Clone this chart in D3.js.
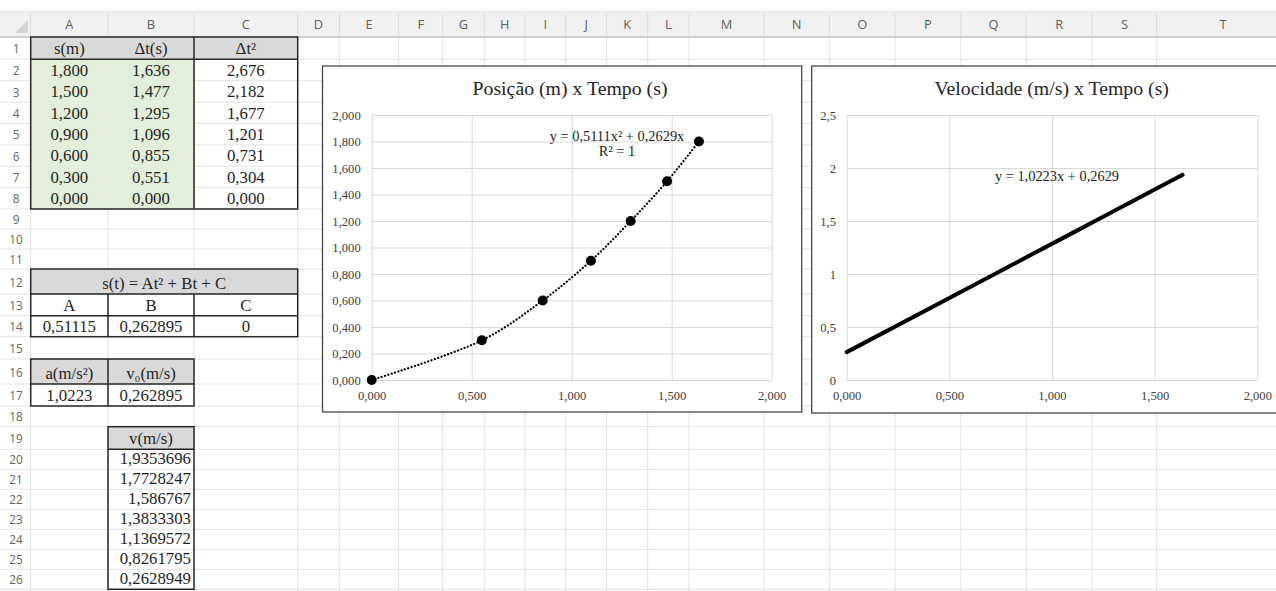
<!DOCTYPE html>
<html>
<head>
<meta charset="utf-8">
<script src="https://cdn.jsdelivr.net/npm/d3@7"></script>
<style>
  body { margin: 0; background: #fff; overflow: hidden; }
  svg { display: block; }
</style>
</head>
<body>
<svg id="sheet" width="1276" height="591"></svg>
<script>
// ---- measured data ----
const distance = [1.800, 1.500, 1.200, 0.900, 0.600, 0.300, 0.000];      // s(m)
const elapsed = [1.636, 1.477, 1.295, 1.096, 0.855, 0.551, 0.000];       // Δt(s)
const elapsedSq = [2.676, 2.182, 1.677, 1.201, 0.731, 0.304, 0.000];     // Δt²
const fitA = 0.51115, fitB = 0.262895, fitC = 0;                          // s(t) = At² + Bt + C
const acceleration = 1.0223, initialVelocity = 0.262895;
const velocity = [1.9353696, 1.7728247, 1.586767, 1.3833303, 1.1369572, 0.8261795, 0.2628949];

// ---- axis ticks and labels ----
const timeTicks = [0, 0.5, 1, 1.5, 2];
const positionTicks = [0, 0.2, 0.4, 0.6, 0.8, 1, 1.2, 1.4, 1.6, 1.8, 2];
const velocityTicks = [0, 0.5, 1, 1.5, 2, 2.5];
const columnLabels = ["A","B","C","D","E","F","G","H","I","J","K","L","M","N","O","P","Q","R","S","T"];
const positionTitle = "Posição (m) x Tempo (s)";
const velocityTitle = "Velocidade (m/s) x Tempo (s)";
const positionEquation = "y = 0,5111x² + 0,2629x";
const positionR2 = "R² = 1";
const velocityEquation = "y = 1,0223x + 0,2629";

// ---- sheet layout ----
const colEdges = [0, 30.7, 108, 194, 297.7, 339.3, 398.7, 442.7, 484.3, 525, 565.7, 606.7,
                  647.7, 689, 764, 829.3, 895, 960.8, 1026.2, 1092.1, 1156.7, 1290];
const rowEdges = [37, 59.3, 80.7, 102.1, 123.5, 144.9, 166.3, 187.7, 209, 229, 249, 269,
                  294, 315.7, 336.7, 359, 384, 406, 426.7, 449.3, 469.3, 489.3, 509.3, 529.3,
                  549.3, 569.3, 589.3, 612];
const SERIF = "'Liberation Serif', serif";
const SANS = "'Open Sans', 'Noto Sans', sans-serif";
const ink = "#1f1f1f";

const comma = v => String(v).replace(".", ",");
const fix3 = v => d3.format(".3f")(v).replace(".", ",");
const colL = c => colEdges[c + 1];          // c: 0 = A
const colR = c => colEdges[c + 2];
const rowT = r => rowEdges[r - 1];          // r: 1-based
const rowB = r => rowEdges[r];

const svg = d3.select("#sheet");
svg.append("rect").attr("width", 1276).attr("height", 591).attr("fill", "#fff");

// ---- sheet gridlines ----
const grid = svg.append("g").attr("stroke", "#e3e3e3").attr("stroke-width", 1);
rowEdges.forEach(y => grid.append("line").attr("x1", 0).attr("x2", 1276).attr("y1", y).attr("y2", y));
colEdges.slice(1).forEach(x => grid.append("line").attr("x1", x).attr("x2", x).attr("y1", 37).attr("y2", 591));

// ---- column header band ----
svg.append("rect").attr("x", 0).attr("y", 11.7).attr("width", 1276).attr("height", 25.3).attr("fill", "#f1f1f1");
svg.append("line").attr("x1", 0).attr("x2", 1276).attr("y1", 11.7).attr("y2", 11.7).attr("stroke", "#e2e2e2");
svg.append("line").attr("x1", 0).attr("x2", 1276).attr("y1", 37).attr("y2", 37).attr("stroke", "#c4c4c4").attr("stroke-width", 1.4);
colEdges.slice(1).forEach(x => svg.append("line").attr("x1", x).attr("x2", x).attr("y1", 14).attr("y2", 36)
  .attr("stroke", "#dcdcdc"));
svg.append("path").attr("d", "M28,20 L28,33 L15,33 Z").attr("fill", "#d4d4d4");
svg.append("g").selectAll("text").data(columnLabels).join("text")
  .attr("x", (d, i) => i === 19 ? 1223 : (colL(i) + colR(i)) / 2)
  .attr("y", 28.5).attr("text-anchor", "middle")
  .attr("font-family", SANS).attr("font-size", 12.8).attr("fill", "#5f5f5f").text(d => d);

// ---- row numbers ----
svg.append("g").selectAll("text").data(d3.range(1, 27)).join("text")
  .attr("x", 16).attr("y", r => (rowT(r) + rowB(r)) / 2 + 1).attr("dy", "0.35em")
  .attr("text-anchor", "middle").attr("font-family", SANS).attr("font-size", 11.8)
  .attr("fill", "#666").text(r => r);

// ---- cell fills ----
const GRAY = "#d9d9d9", GREEN = "#e2efda";
function fill(c0, r0, c1, r1, color) {
  svg.append("rect").attr("x", colL(c0)).attr("y", rowT(r0))
    .attr("width", colR(c1) - colL(c0)).attr("height", rowB(r1) - rowT(r0)).attr("fill", color);
}
fill(0, 1, 2, 1, GRAY);
fill(0, 2, 1, 8, GREEN);
fill(0, 12, 2, 12, GRAY);
fill(0, 16, 1, 16, GRAY);
fill(1, 19, 1, 19, GRAY);

// ---- cell text ----
const cells = svg.append("g").attr("font-family", SERIF).attr("font-size", 16.8).attr("fill", ink);
function cell(c0, c1, r, txt, align) {
  const t = cells.append("text").attr("y", rowB(r) - 5);
  if (align === "right") t.attr("x", colR(c1) - 3).attr("text-anchor", "end");
  else t.attr("x", (colL(c0) + colR(c1)) / 2).attr("text-anchor", "middle");
  t.text(txt);
}
cell(0, 0, 1, "s(m)"); cell(1, 1, 1, "Δt(s)"); cell(2, 2, 1, "Δt²");
distance.forEach((v, i) => cell(0, 0, i + 2, fix3(v)));
elapsed.forEach((v, i) => cell(1, 1, i + 2, fix3(v)));
elapsedSq.forEach((v, i) => cell(2, 2, i + 2, fix3(v)));
cell(0, 2, 12, "s(t) = At² + Bt + C");
cell(0, 0, 13, "A"); cell(1, 1, 13, "B"); cell(2, 2, 13, "C");
cell(0, 0, 14, comma(fitA)); cell(1, 1, 14, comma(fitB)); cell(2, 2, 14, comma(fitC));
cell(0, 0, 16, "a(m/s²)"); cell(1, 1, 16, "v₀(m/s)");
cell(0, 0, 17, comma(acceleration)); cell(1, 1, 17, comma(initialVelocity));
cell(1, 1, 19, "v(m/s)");
velocity.forEach((v, i) => cell(1, 1, i + 20, comma(v), "right"));

// ---- cell borders ----
const borders = svg.append("g").attr("stroke", "#262626").attr("stroke-width", 1.5).attr("fill", "none");
function box(c0, r0, c1, r1) {
  borders.append("rect").attr("x", colL(c0)).attr("y", rowT(r0))
    .attr("width", colR(c1) - colL(c0)).attr("height", rowB(r1) - rowT(r0));
}
function hline(c0, c1, y) { borders.append("line").attr("x1", colL(c0)).attr("x2", colR(c1)).attr("y1", y).attr("y2", y); }
function vline(x, r0, r1) { borders.append("line").attr("x1", x).attr("x2", x).attr("y1", rowT(r0)).attr("y2", rowB(r1)); }
box(0, 1, 2, 8); hline(0, 2, rowB(1)); vline(colR(1), 1, 8);
box(0, 12, 2, 14); hline(0, 2, rowB(12)); hline(0, 2, rowB(13)); vline(colR(0), 13, 14); vline(colR(1), 13, 14);
box(0, 16, 1, 17); hline(0, 1, rowB(16)); vline(colR(0), 16, 17);
box(1, 19, 1, 26); hline(1, 1, rowB(19));

// ---- chart helper ----
function chartFrame(frame, plot, title, titleX, xTicks, yTicks, yFmt, yPad) {
  const g = svg.append("g");
  g.append("rect").attr("x", frame.x).attr("y", frame.y).attr("width", frame.w).attr("height", frame.h)
    .attr("fill", "#fff").attr("stroke", "#484848").attr("stroke-width", 1.3);
  g.append("text").attr("x", titleX).attr("y", 94.5).attr("text-anchor", "middle")
    .attr("font-family", SERIF).attr("font-size", 19.8).attr("fill", "#262626").text(title);
  const x = d3.scaleLinear().domain([0, 2]).range([plot.x0, plot.x1]);
  const y = d3.scaleLinear().domain([0, yTicks[yTicks.length - 1]]).range([plot.y0, plot.y1]);
  const xa = g.append("g").attr("transform", `translate(0,${plot.y0})`)
    .call(d3.axisBottom(x).tickValues(xTicks).tickSize(-(plot.y0 - plot.y1)).tickPadding(11).tickFormat(fix3));
  const ya = g.append("g").attr("transform", `translate(${plot.x0},0)`)
    .call(d3.axisLeft(y).tickValues(yTicks).tickSize(-(plot.x1 - plot.x0)).tickPadding(yPad).tickFormat(yFmt));
  [xa, ya].forEach(a => {
    a.select(".domain").remove();
    a.selectAll("line").attr("stroke", "#d9d9d9").attr("stroke-width", 1);
    a.selectAll("text").attr("font-family", SERIF).attr("font-size", 12.6).attr("fill", "#404040");
  });
  return { g, x, y };
}

// ---- Posição x Tempo ----
const pos = chartFrame({ x: 322.5, y: 66, w: 479.2, h: 346 },
  { x0: 371.7, x1: 771.7, y0: 380, y1: 115 },
  positionTitle, 570, timeTicks, positionTicks, fix3, 11);
const posPts = elapsed.map((t, i) => [t, distance[i]]).sort((a, b) => a[0] - b[0]);
pos.g.append("path").datum(posPts)
  .attr("d", d3.line().x(d => pos.x(d[0])).y(d => pos.y(d[1])).curve(d3.curveCatmullRom.alpha(0.5)))
  .attr("fill", "none").attr("stroke", "#000").attr("stroke-width", 2.2)
  .attr("stroke-linecap", "round").attr("stroke-dasharray", "0.1 3.4");
pos.g.selectAll("circle").data(posPts).join("circle")
  .attr("cx", d => pos.x(d[0])).attr("cy", d => pos.y(d[1])).attr("r", 5).attr("fill", "#000");
pos.g.append("text").attr("x", 617).attr("y", 140.5).attr("text-anchor", "middle")
  .attr("font-family", SERIF).attr("font-size", 14.4).attr("fill", "#222").text(positionEquation);
pos.g.append("text").attr("x", 617).attr("y", 156).attr("text-anchor", "middle")
  .attr("font-family", SERIF).attr("font-size", 14.4).attr("fill", "#222").text(positionR2);

// ---- Velocidade x Tempo ----
const vel = chartFrame({ x: 811.7, y: 66, w: 520, h: 347 },
  { x0: 846.7, x1: 1257.3, y0: 380, y1: 115 },
  velocityTitle, 1051.7, timeTicks, velocityTicks, v => comma(v), 10.7);
const velPts = elapsed.map((t, i) => [t, velocity[i]]).sort((a, b) => a[0] - b[0]);
vel.g.append("path").datum(velPts)
  .attr("d", d3.line().x(d => vel.x(d[0])).y(d => vel.y(d[1])))
  .attr("fill", "none").attr("stroke", "#000").attr("stroke-width", 4).attr("stroke-linecap", "round");
vel.g.append("text").attr("x", 1057).attr("y", 180.5).attr("text-anchor", "middle")
  .attr("font-family", SERIF).attr("font-size", 14.4).attr("fill", "#222").text(velocityEquation);
</script>
</body>
</html>
